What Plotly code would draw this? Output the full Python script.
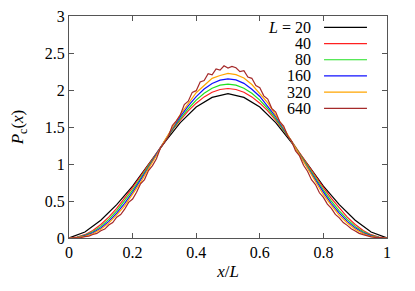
import plotly.graph_objects as go

# ---- data ----
labels = ["<i>L</i> = 20", "40", "80", "160", "320", "640"]
colors = ["#000000", "#ff2020", "#20e020", "#1010ff", "#ffa500", "#a52a2a"]

x_l20 = [i / 20 for i in range(21)]
p_l20 = [0, 0.08, 0.24, 0.45, 0.70, 1.00, 1.29, 1.56, 1.77, 1.90, 1.95,
         1.90, 1.77, 1.56, 1.29, 1.00, 0.70, 0.45, 0.24, 0.08, 0]

x_mid = [i / 40 for i in range(41)]
p_l40 = [0, 0.011, 0.045, 0.102, 0.182, 0.282, 0.400, 0.534, 0.680, 0.834, 0.993,
         1.152, 1.308, 1.457, 1.594, 1.717, 1.822, 1.907, 1.969, 2.007, 2.020,
         2.007, 1.969, 1.907, 1.822, 1.717, 1.594, 1.457, 1.308, 1.152, 0.993,
         0.834, 0.680, 0.534, 0.400, 0.282, 0.182, 0.102, 0.045, 0.011, 0]
p_l80 = [0, 0.008, 0.035, 0.085, 0.157, 0.251, 0.366, 0.499, 0.646, 0.805, 0.970,
         1.139, 1.305, 1.464, 1.614, 1.747, 1.863, 1.955, 2.024, 2.066, 2.080,
         2.066, 2.024, 1.955, 1.863, 1.747, 1.614, 1.464, 1.305, 1.139, 0.970,
         0.805, 0.646, 0.499, 0.366, 0.251, 0.157, 0.085, 0.035, 0.008, 0]
p_l160 = [0, 0.005, 0.028, 0.070, 0.136, 0.225, 0.336, 0.468, 0.617, 0.780, 0.952,
          1.130, 1.307, 1.478, 1.639, 1.785, 1.911, 2.013, 2.088, 2.134, 2.150,
          2.136, 2.090, 2.011, 1.913, 1.783, 1.641, 1.476, 1.309, 1.128, 0.954,
          0.778, 0.619, 0.466, 0.337, 0.224, 0.137, 0.069, 0.028, 0.005, 0]
p_l320 = [0, 0.004, 0.022, 0.058, 0.118, 0.201, 0.312, 0.434, 0.592, 0.751, 0.938,
          1.114, 1.311, 1.486, 1.669, 1.815, 1.963, 2.061, 2.158, 2.196, 2.225,
          2.207, 2.162, 2.074, 1.951, 1.826, 1.660, 1.493, 1.302, 1.122, 0.930,
          0.757, 0.585, 0.440, 0.306, 0.203, 0.117, 0.059, 0.021, 0.004, 0]

x_fine = [i / 80 for i in range(81)]
p_l640 = [0, 0.001, 0.004, 0.007, 0.018, 0.025, 0.047, 0.062, 0.099, 0.121,
          0.175, 0.209, 0.281, 0.316, 0.389, 0.482, 0.527, 0.619, 0.733, 0.790,
          0.911, 0.978, 1.071, 1.216, 1.289, 1.372, 1.521, 1.583, 1.662, 1.804,
          1.849, 1.968, 1.991, 2.109, 2.127, 2.221, 2.205, 2.284, 2.268, 2.327,
          2.297,
          2.318, 2.301, 2.249, 2.262, 2.176, 2.158, 2.061, 2.032, 1.921, 1.878,
          1.752, 1.701, 1.574, 1.512, 1.381, 1.308, 1.176, 1.109, 0.982, 0.903,
          0.788, 0.722, 0.611, 0.549, 0.458, 0.401, 0.319, 0.272, 0.208, 0.171,
          0.124, 0.096, 0.063, 0.045, 0.026, 0.016, 0.008, 0.003, 0.001, 0]

series_x = [x_l20, x_mid, x_mid, x_mid, x_mid, x_fine]
series_y = [p_l20, p_l40, p_l80, p_l160, p_l320, p_l640]

x_ticks = [0, 0.2, 0.4, 0.6, 0.8, 1]
x_ticklabels = ["0", "0.2", "0.4", "0.6", "0.8", "1"]
y_ticks = [0, 0.5, 1, 1.5, 2, 2.5, 3]
y_ticklabels = ["0", "0.5", "1", "1.5", "2", "2.5", "3"]

FONT = "'Times New Roman', 'Liberation Serif', 'DejaVu Serif', serif"
FS = 15

fig = go.Figure()
for xs, ys, lab, col in zip(series_x, series_y, labels, colors):
    fig.add_trace(go.Scatter(x=xs, y=ys, mode="lines", name=lab,
                             line=dict(color=col, width=1.2), showlegend=False))

# gnuplot-style key (text right-aligned, line sample on the right)
y0 = 0.949
dy = 0.073
for i, (lab, col) in enumerate(zip(labels, colors)):
    yy = y0 - i * dy
    fig.add_annotation(x=0.767, y=yy, xref="paper", yref="paper", text=lab,
                       showarrow=False, xanchor="right", yanchor="middle",
                       font=dict(family=FONT, size=FS + 1, color="#000"))
    fig.add_shape(type="line", xref="paper", yref="paper",
                  x0=0.802, x1=0.937, y0=yy, y1=yy,
                  line=dict(color=col, width=1.2))

axis_common = dict(showline=True, linecolor="#555", linewidth=1, mirror="allticks",
                   ticks="inside", ticklen=5, tickcolor="#555", showgrid=False,
                   zeroline=False, automargin=False, ticklabeloverflow="allow",
                   tickfont=dict(family=FONT, size=FS + 1, color="#000"))

fig.update_xaxes(range=[0, 1], tickvals=x_ticks, ticktext=x_ticklabels,
                 title=dict(text="<i>x</i>/<i>L</i>", font=dict(family=FONT, size=FS + 2, color="#000"), standoff=4),
                 **axis_common)
fig.update_yaxes(range=[0, 3], tickvals=y_ticks, ticktext=y_ticklabels,
                 title=dict(text="<i>P</i><sub>c</sub>(<i>x</i>)", font=dict(family=FONT, size=FS + 2, color="#000"), standoff=16),
                 **axis_common)

# the page body adds an 8px offset, so the figure is 8px smaller here
fig.update_layout(width=407, height=283, margin=dict(l=61, r=28, t=8, b=53),
                  plot_bgcolor="white", paper_bgcolor="white", showlegend=False,
                  font=dict(family=FONT))

fig.write_html("out.html")
